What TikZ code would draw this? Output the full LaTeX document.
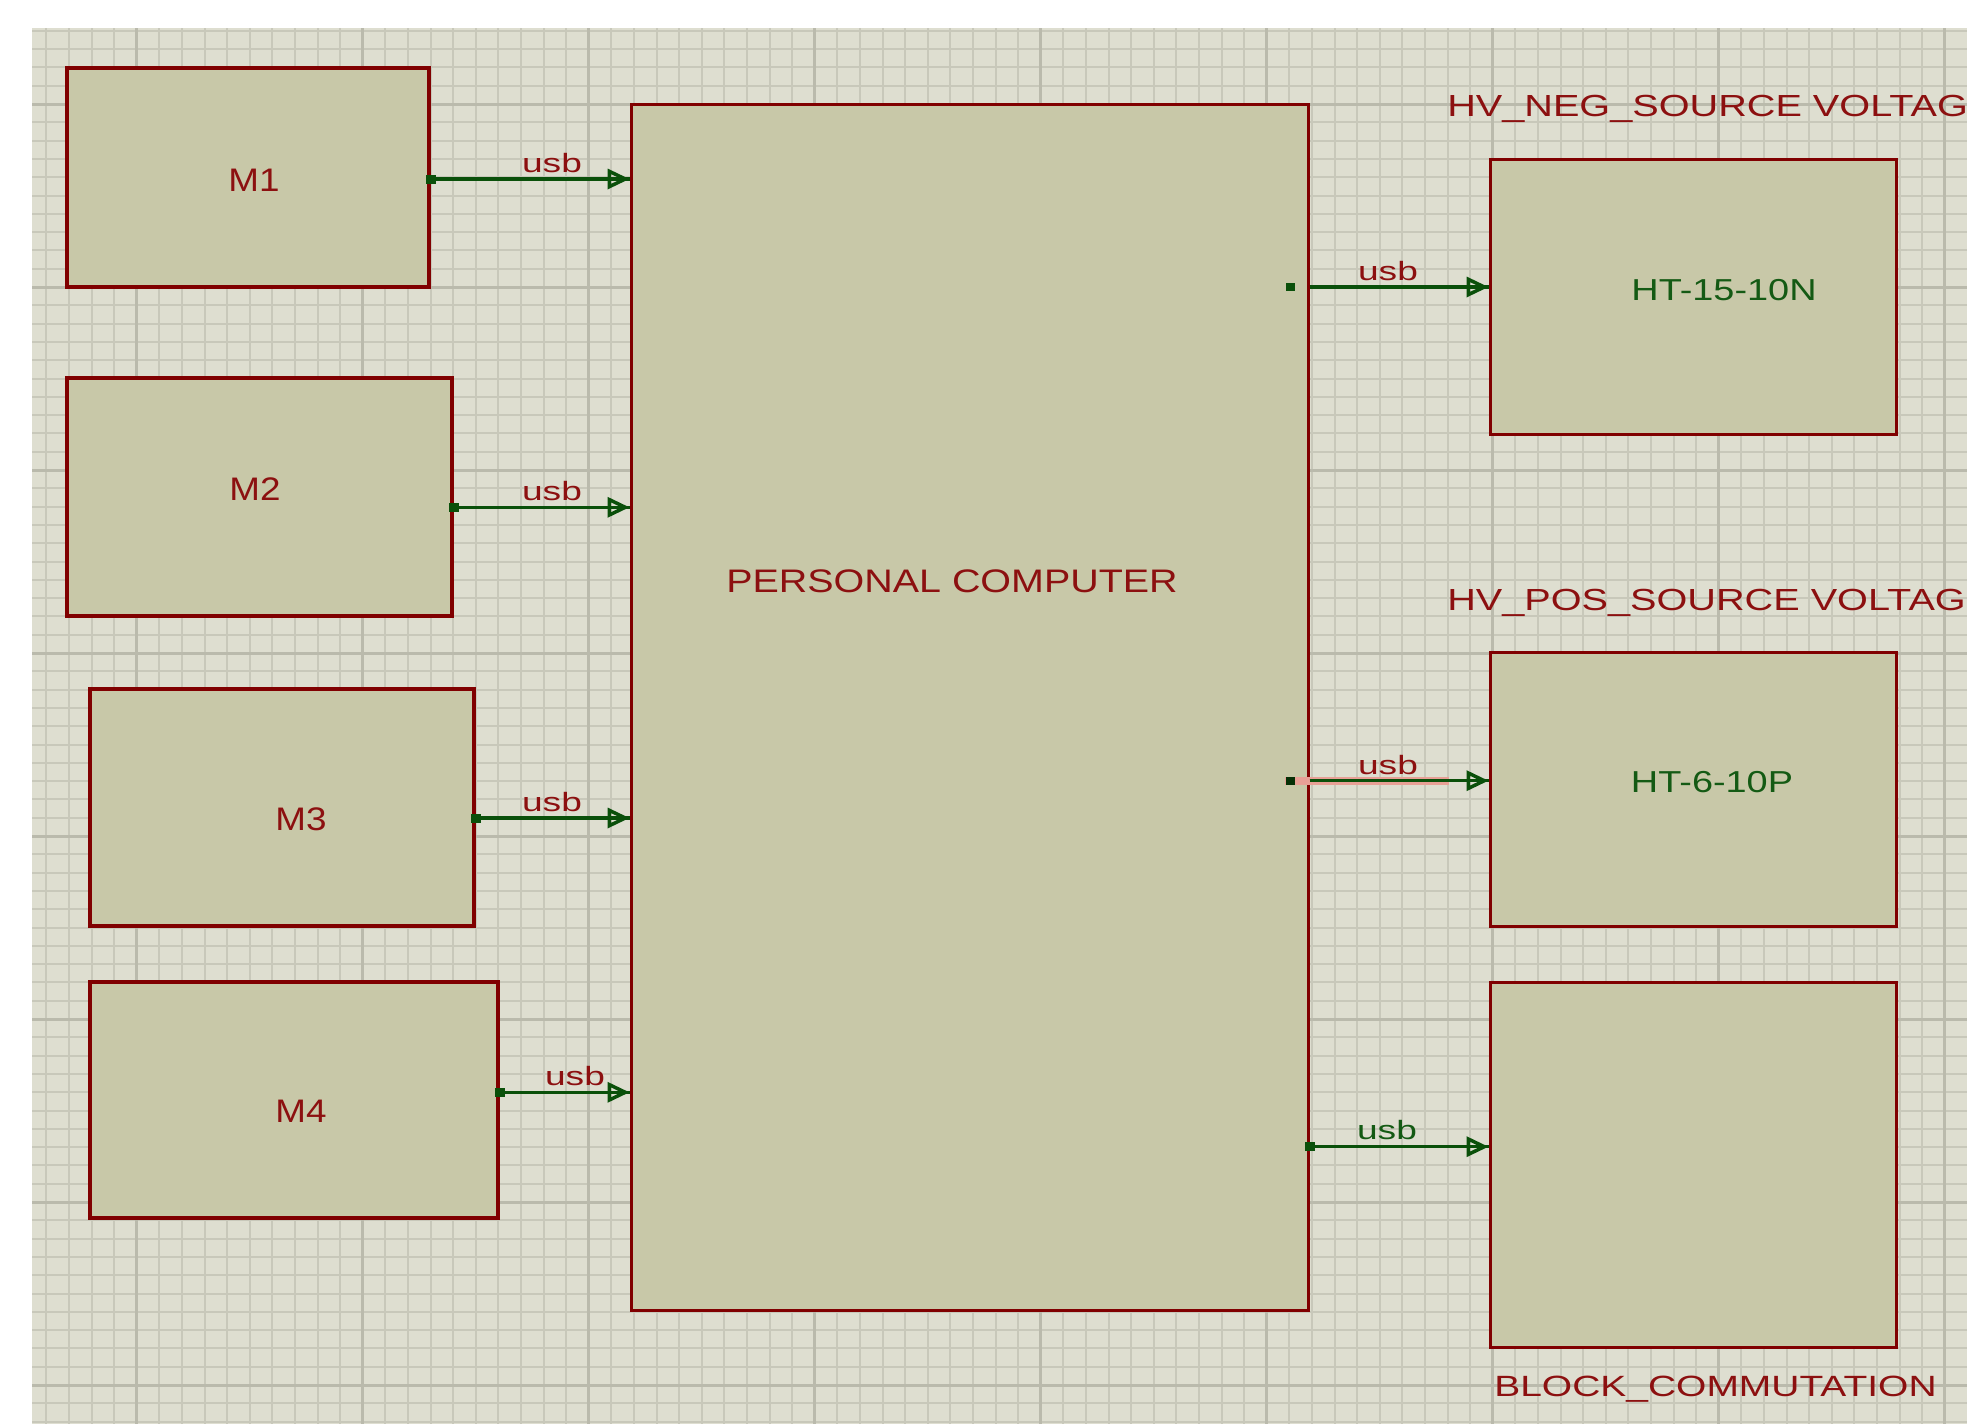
\documentclass[tikz,border=0pt]{standalone}
\usepackage{fontspec}
\setmainfont{Liberation Sans}
\usetikzlibrary{arrows.meta,calc}

\definecolor{gridbg}{RGB}{222,222,208}
\definecolor{gridminor}{RGB}{200,200,186}
\definecolor{gridmajor}{RGB}{186,186,172}
\definecolor{boxfill}{RGB}{200,200,168}
\definecolor{boxedge}{RGB}{128,0,0}
\definecolor{labelred}{RGB}{140,16,16}
\definecolor{wiregreen}{RGB}{10,80,10}
\definecolor{htgreen}{RGB}{20,90,20}
\definecolor{selpink}{RGB}{232,160,150}

\begin{document}
\begin{tikzpicture}[
        x=1pt, y=-1pt,
        mbox/.style={draw=boxedge, fill=boxfill, line width=4pt, rectangle, inner sep=0pt},
        bigbox/.style={draw=boxedge, fill=boxfill, line width=3pt, rectangle, inner sep=0pt},
        wire/.style={draw=wiregreen, line width=3.5pt,
            postaction={draw=wiregreen, -{Triangle[open, length=22pt, width=20pt]}}},
        mlabel/.style={text=labelred, font=\fontsize{32.6}{36}\selectfont, xscale=1.13, anchor=base, inner sep=0pt},
        pclabel/.style={text=labelred, font=\fontsize{32.6}{36}\selectfont, xscale=1.21, anchor=base, inner sep=0pt},
        hvlabel/.style={text=labelred, font=\fontsize{30.5}{34}\selectfont, xscale=1.30, anchor=base west, inner sep=0pt},
        blklabel/.style={text=labelred, font=\fontsize{29.3}{33}\selectfont, xscale=1.33, anchor=base west, inner sep=0pt},
        htlabel/.style={text=htgreen, font=\fontsize{30.3}{34}\selectfont, xscale=1.25, anchor=base, inner sep=0pt},
        usblabel/.style={text=labelred, font=\fontsize{26.5}{30}\selectfont, xscale=1.4, anchor=base, inner sep=0pt}
    ]
    \useasboundingbox (0,0) rectangle (1967,1424);

    % ==========================================
    % SHEET GRID
    % ==========================================
    \begin{scope}
        \clip (32,28) rectangle (1967,1424);
        \fill[gridbg] (32,28) rectangle (1967,1424);
        \foreach \i in {-4,...,80}
            \draw[gridminor, line width=2pt] ({136.7+22.6*\i},28) -- ({136.7+22.6*\i},1424);
        \foreach \j in {-4,...,72}
            \draw[gridminor, line width=2pt] (32,{104+18.3*\j}) -- (1967,{104+18.3*\j});
        \foreach \i in {0,...,8}
            \draw[gridmajor, line width=3pt] ({136.7+226*\i},28) -- ({136.7+226*\i},1424);
        \foreach \j in {0,...,7}
            \draw[gridmajor, line width=3pt] (32,{104+183*\j}) -- (1967,{104+183*\j});
    \end{scope}

    % ==========================================
    % BLOCKS
    % ==========================================
    \node[mbox, minimum width=362pt, minimum height=219pt] (M1) at (248,177.5) {};
    \node[mbox, minimum width=385pt, minimum height=238pt] (M2) at (259,497) {};
    \node[mbox, minimum width=384pt, minimum height=237pt] (M3) at (282,807) {};
    \node[mbox, minimum width=408pt, minimum height=236pt] (M4) at (294,1100) {};

    \node[bigbox, minimum width=677pt, minimum height=1206pt] (PC) at (969.5,707) {};

    \node[bigbox, minimum width=406pt, minimum height=275pt] (HTN) at (1693,296.5) {};
    \node[bigbox, minimum width=406pt, minimum height=274pt] (HTP) at (1693,789) {};
    \node[bigbox, minimum width=406pt, minimum height=365pt] (BLK) at (1693,1164.5) {};

    % block texts
    \node[mlabel] (M1txt) at (254,191) {M1};
    \node[mlabel] (M2txt) at (255,500) {M2};
    \node[mlabel] (M3txt) at (301,830) {M3};
    \node[mlabel] (M4txt) at (301,1122) {M4};
    \node[pclabel] (PCtxt) at (952,592) {PERSONAL COMPUTER};
    \node[htlabel] (HTNtxt) at (1724,300) {HT-15-10N};
    \node[htlabel] (HTPtxt) at (1712,792) {HT-6-10P};
    \node[hvlabel] (NEGtxt) at (1447,116.7) {HV\_NEG\_SOURCE VOLTAG};
    \node[hvlabel] (POStxt) at (1447,610) {HV\_POS\_SOURCE VOLTAG};
    \node[blklabel] (BLKtxt) at (1494,1396) {BLOCK\_COMMUTATION};

    % ==========================================
    % USB WIRES: M1..M4 -> PC
    % ==========================================
    \coordinate (p1) at (M1.east |- 0,179);
    \coordinate (p2) at (M2.east |- 0,507.3);
    \coordinate (p3) at (M3.east |- 0,818);
    \coordinate (p4) at (M4.east |- 0,1092.3);

    \draw[wire] (p1) -- (p1 -| PC.west);
    \draw[wire] (p2) -- (p2 -| PC.west);
    \draw[wire] (p3) -- (p3 -| PC.west);
    \draw[wire] (p4) -- (p4 -| PC.west);

    \fill[wiregreen] ($(p1)+(-5,-4.5)$) rectangle ($(p1)+(5,4.5)$);
    \fill[wiregreen] ($(p2)+(-5,-4.5)$) rectangle ($(p2)+(5,4.5)$);
    \fill[wiregreen] ($(p3)+(-5,-4.5)$) rectangle ($(p3)+(5,4.5)$);
    \fill[wiregreen] ($(p4)+(-5,-4.5)$) rectangle ($(p4)+(5,4.5)$);

    \node[usblabel] (u1) at (552,172) {usb};
    \node[usblabel] (u2) at (552,500.3) {usb};
    \node[usblabel] (u3) at (552,811) {usb};
    \node[usblabel] (u4) at (575,1085.3) {usb};

    % ==========================================
    % USB WIRES: PC -> sources, commutation
    % ==========================================
    \coordinate (q1) at (PC.east |- 0,287);
    \coordinate (q2) at (PC.east |- 0,780.7);
    \coordinate (q3) at (PC.east |- 0,1146.7);

    \fill[selpink] ($(q2)+(-25,-4)$) rectangle ($(q2)+(139,4)$); % selected net

    \draw[wire] (q1) -- (q1 -| HTN.west);
    \draw[wire] (q2) -- (q2 -| HTP.west);
    \draw[wire] (q3) -- (q3 -| BLK.west);

    \fill[wiregreen] ($(q1)+(-24,-4)$) rectangle ($(q1)+(-15,4)$);
    \fill[wiregreen!60!black] ($(q2)+(-24,-4)$) rectangle ($(q2)+(-15,4)$);
    \fill[wiregreen] ($(q3)+(-5,-4.5)$) rectangle ($(q3)+(5,4.5)$);

    \node[usblabel] (u5) at (1388,280) {usb};
    \node[usblabel] (u6) at (1388,774) {usb};
    \node[usblabel, text=htgreen] (u7) at (1387,1139.7) {usb};

\end{tikzpicture}
\end{document}
